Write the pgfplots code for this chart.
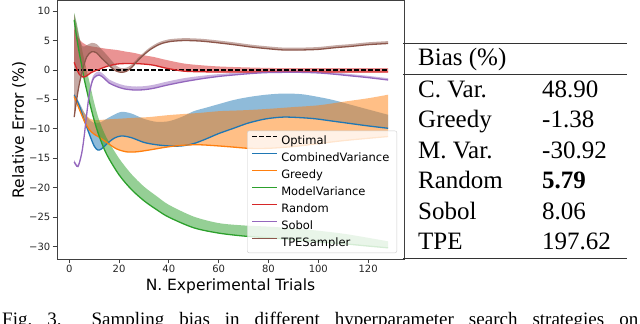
\documentclass[border=0pt]{standalone}
\usepackage{fontspec}
\setmainfont{Liberation Serif}
\newfontfamily\dejavu{DejaVu Sans}
\usepackage{pgfplots}
\usepackage{pgfplotstable}
\pgfplotsset{compat=1.18}
\usepgfplotslibrary{fillbetween}
\definecolor{mplblue}{RGB}{31,119,180}
\definecolor{mplorange}{RGB}{255,127,14}
\definecolor{mplgreen}{RGB}{44,160,44}
\definecolor{mplred}{RGB}{214,39,40}
\definecolor{mplpurple}{RGB}{148,103,189}
\definecolor{mplbrown}{RGB}{140,86,75}

\pgfplotstableread{
x line upper
2 -4.3 -4.0
4 -6.0 -5.5
6 -8.5 -7.2
8 -10.8 -8.4
10 -12.9 -9.0
11.5 -13.6 -9.0
13 -13.4 -8.8
15 -12.6 -8.3
18 -11.6 -7.6
21 -11.2 -7.1
25 -11.5 -7.4
30 -12.3 -8.3
35 -12.7 -8.8
40 -12.9 -8.7
45 -12.9 -8.0
50 -12.5 -7.0
55 -11.7 -6.4
60 -10.8 -5.8
66 -9.9 -5.1
72 -9.0 -4.6
79 -8.3 -4.2
86 -8.0 -4.0
93 -8.1 -4.1
99 -8.3 -4.5
106 -8.7 -5.1
113 -9.1 -5.9
120 -9.5 -6.7
128 -9.9 -7.6
}\cvtab

\pgfplotstableread{
x line upper
2 -4.5 -4.2
4 -6.6 -5.8
6 -8.6 -7.3
8 -10.1 -8.2
10 -10.9 -8.5
12 -11.4 -8.5
15 -12.3 -8.4
19 -13.4 -8.3
23 -13.9 -8.2
27 -13.9 -8.1
32 -13.6 -8.0
39 -13.1 -7.7
45 -12.8 -7.5
52 -12.7 -7.3
60 -12.9 -7.0
66 -13.1 -6.9
72 -13.3 -6.8
80 -13.3 -6.6
90 -13.0 -6.3
100 -12.5 -6.0
110 -12.0 -5.4
120 -11.6 -4.8
128 -11.3 -4.2
}\grtab

\pgfplotstableread{
x line upper
2 8.5 9.7
3 5.5 8.0
4 3.0 5.8
5 0.8 3.8
6 -1.5 1.8
8 -5.2 -1.8
10 -8.5 -5.5
12 -11.2 -8.5
15 -14.3 -11.5
20 -17.8 -15.0
25 -20.3 -17.7
30 -22.2 -19.8
35 -23.7 -21.4
40 -25.0 -22.9
50 -26.8 -24.9
60 -27.7 -26.0
70 -28.2 -26.4
80 -28.5 -26.6
90 -28.8 -26.9
100 -29.2 -27.3
110 -29.5 -27.8
120 -29.9 -28.5
128 -30.2 -29.1
}\mvtab

\pgfplotstableread{
x line upper
2 1.3 7.0
3 0.2 6.0
4 -0.7 5.2
5.5 -1.2 4.6
7 -1.0 4.2
9 -0.4 4.0
12 0.1 3.8
15 0.6 3.6
19 1.0 3.4
23 1.1 3.1
26 1.1 2.9
30 1.0 2.5
34 0.8 2.2
39 0.3 1.7
46 -0.2 1.1
53 -0.3 0.8
60 -0.35 0.6
70 -0.35 0.45
80 -0.35 0.35
90 -0.35 0.3
100 -0.35 0.3
110 -0.35 0.3
120 -0.35 0.3
128 -0.35 0.3
}\rdtab

\pgfplotstableread{
x line upper
2 -15.6 -15.3
3.5 -16.4 -16.1
5 -14.2 -13.9
6 -11.3 -11.0
7 -7.6 -7.3
8 -4.3 -3.8
9 -2.3 -1.7
10 -1.3 -0.7
12 -0.85 -0.25
14 -1.4 -0.8
16 -2.2 -1.6
19 -2.8 -2.2
22 -3.2 -2.6
26 -3.4 -2.8
30 -3.35 -2.75
34 -3.1 -2.5
39 -2.6 -2.0
46 -2.0 -1.4
53 -1.5 -1.0
60 -1.1 -0.7
66 -0.85 -0.5
73 -0.6 -0.3
79 -0.45 -0.15
86 -0.4 -0.1
93 -0.4 -0.1
100 -0.5 -0.2
106 -0.7 -0.4
113 -1.0 -0.7
120 -1.3 -1.0
128 -1.7 -1.4
}\sbtab

\pgfplotstableread{
x line upper
2 -8.0 9.5
3 -5.0 7.5
4 -2.5 5.5
5.4 0.0 4.0
7 2.2 4.2
9 3.1 4.6
11 2.9 4.4
13 2.0 3.5
15 1.2 2.6
17 0.4 1.6
19 -0.2 0.7
21 -0.4 0.3
23 -0.2 0.4
25 0.4 0.9
28 1.8 2.2
32 3.3 3.7
36 4.3 4.7
40 4.8 5.2
46 5.0 5.4
53 4.9 5.3
60 4.6 5.0
66 4.3 4.7
73 3.9 4.3
80 3.6 4.0
86 3.4 3.8
93 3.4 3.8
100 3.5 3.9
107 3.8 4.2
113 4.0 4.4
120 4.3 4.7
128 4.5 4.9
}\tpetab

\newcommand\tabfont{\fontsize{25bp}{30bp}\selectfont}

\begin{document}
\begin{tikzpicture}[x=1bp,y=1bp]
\begin{axis}[
  at={(57bp,65bp)}, anchor=south west,
  scale only axis, width=347bp, height=258.5bp,
  xmin=-4.9, xmax=134.4, ymin=-32.1, ymax=11.8,
  axis line style={black!75, line width=0.9bp},
  tick align=outside, tick pos=left,
  major tick length=4.5bp,
  every tick/.style={black!75, line width=0.9bp},
  xtick={0,20,40,60,80,100,120},
  xticklabels={0,20,40,60,80,100,120},
  ytick={-30,-25,-20,-15,-10,-5,0,5,10},
  yticklabels={−30,−25,−20,−15,−10,−5,0,5,10},
  ticklabel style={font=\dejavu\fontsize{10bp}{12bp}\selectfont, text=black!85},
  xticklabel style={inner sep=0pt, yshift=-1.5bp},
  yticklabel style={inner sep=0pt, xshift=-2bp},
  xlabel={N. Experimental Trials},
  ylabel={Relative Error (\%)},
  x label style={font=\dejavu\fontsize{15.5bp}{18bp}\selectfont, at={(axis description cs:0.5,0)}, anchor=base, yshift=-31bp},
  y label style={font=\dejavu\fontsize{15.5bp}{18bp}\selectfont, at={(axis description cs:-0.1095,0.5)}, anchor=center},
  legend style={
    at={(axis description cs:0.980,0.023)}, anchor=south east,
    font=\dejavu\fontsize{11.5bp}{13bp}\selectfont,
    fill=white, fill opacity=0.8, draw opacity=1, text opacity=1, draw=black!20, rounded corners=2bp,
    inner xsep=4bp, inner ysep=1.5bp, row sep=0bp,
    nodes={inner xsep=3.5bp, inner ysep=0bp, text height=12.6bp, text depth=4.4bp},
  },
  legend cell align=left,
  legend image code/.code={\draw[#1] (0bp,4.5bp) -- (25bp,4.5bp);},
]
\addlegendimage{black, line width=1.5bp, dash pattern=on 4.5bp off 2.5bp}
\addlegendentry{Optimal}
\addlegendimage{draw=mplblue, line width=1.5bp}
\addlegendentry{CombinedVariance}
\addlegendimage{draw=mplorange, line width=1.5bp}
\addlegendentry{Greedy}
\addlegendimage{draw=mplgreen, line width=1.5bp}
\addlegendentry{ModelVariance}
\addlegendimage{draw=mplred, line width=1.5bp}
\addlegendentry{Random}
\addlegendimage{draw=mplpurple, line width=1.5bp}
\addlegendentry{Sobol}
\addlegendimage{draw=mplbrown, line width=1.5bp}
\addlegendentry{TPESampler}
% fills
\addplot[name path=cvl, draw=none, smooth, forget plot] table[x=x,y=line]{\cvtab};
\addplot[name path=cvu, draw=none, smooth, forget plot] table[x=x,y=upper]{\cvtab};
\addplot[mplblue, fill opacity=0.5, draw=none, forget plot] fill between[of=cvu and cvl];
\addplot[name path=grl, draw=none, smooth, forget plot] table[x=x,y=line]{\grtab};
\addplot[name path=gru, draw=none, smooth, forget plot] table[x=x,y=upper]{\grtab};
\addplot[mplorange, fill opacity=0.5, draw=none, forget plot] fill between[of=gru and grl];
\addplot[name path=mvl, draw=none, smooth, forget plot] table[x=x,y=line]{\mvtab};
\addplot[name path=mvu, draw=none, smooth, forget plot] table[x=x,y=upper]{\mvtab};
\addplot[mplgreen, fill opacity=0.5, draw=none, forget plot] fill between[of=mvu and mvl];
\addplot[name path=rdl, draw=none, smooth, forget plot] table[x=x,y=line]{\rdtab};
\addplot[name path=rdu, draw=none, smooth, forget plot] table[x=x,y=upper]{\rdtab};
\addplot[mplred, fill opacity=0.5, draw=none, forget plot] fill between[of=rdu and rdl];
\addplot[name path=sbl, draw=none, smooth, forget plot] table[x=x,y=line]{\sbtab};
\addplot[name path=sbu, draw=none, smooth, forget plot] table[x=x,y=upper]{\sbtab};
\addplot[mplpurple, fill opacity=0.5, draw=none, forget plot] fill between[of=sbu and sbl];
\addplot[name path=tpl, draw=none, smooth, forget plot] table[x=x,y=line]{\tpetab};
\addplot[name path=tpu, draw=none, smooth, forget plot] table[x=x,y=upper]{\tpetab};
\addplot[mplbrown, fill opacity=0.5, draw=none, forget plot] fill between[of=tpu and tpl];
% lines
\addplot[black, line width=1.3bp, dash pattern=on 4.5bp off 2.5bp, forget plot] coordinates {(2,0) (128,0)};
\addplot[mplblue, line width=1.3bp, smooth, forget plot] table[x=x,y=line]{\cvtab};
\addplot[mplorange, line width=1.3bp, smooth, forget plot] table[x=x,y=line]{\grtab};
\addplot[mplgreen, line width=1.3bp, smooth, forget plot] table[x=x,y=line]{\mvtab};
\addplot[mplred, line width=1.3bp, smooth, forget plot] table[x=x,y=line]{\rdtab};
\addplot[mplpurple, line width=1.3bp, smooth, forget plot] table[x=x,y=line]{\sbtab};
\addplot[mplbrown, line width=1.3bp, smooth, forget plot] table[x=x,y=line]{\tpetab};
\end{axis}
% table
\draw[black!80, line width=1bp] (403bp,280.7bp) -- (627bp,280.7bp);
\draw[black!80, line width=1bp] (403bp,249bp) -- (627bp,249bp);
\draw[black!80, line width=1bp] (403bp,65.7bp) -- (627bp,65.7bp);
\node[anchor=base west, inner sep=0pt, font=\tabfont] at (418bp,258.3bp) {Bias (\%)};
\node[anchor=base west, inner sep=0pt, font=\tabfont] at (418bp,226.7bp) {C. Var.};
\node[anchor=base west, inner sep=0pt, font=\tabfont] at (418bp,196.2bp) {Greedy};
\node[anchor=base west, inner sep=0pt, font=\tabfont] at (418bp,165.7bp) {M. Var.};
\node[anchor=base west, inner sep=0pt, font=\tabfont] at (418bp,135.2bp) {Random};
\node[anchor=base west, inner sep=0pt, font=\tabfont] at (418bp,104.7bp) {Sobol};
\node[anchor=base west, inner sep=0pt, font=\tabfont] at (418bp,74.2bp) {TPE};
\node[anchor=base west, inner sep=0pt, font=\tabfont] at (542bp,226.7bp) {48.90};
\node[anchor=base west, inner sep=0pt, font=\tabfont] at (542bp,196.2bp) {-1.38};
\node[anchor=base west, inner sep=0pt, font=\tabfont] at (542bp,165.7bp) {-30.92};
\node[anchor=base west, inner sep=0pt, font=\tabfont] at (542bp,135.2bp) {\textbf{5.79}};
\node[anchor=base west, inner sep=0pt, font=\tabfont] at (542bp,104.7bp) {8.06};
\node[anchor=base west, inner sep=0pt, font=\tabfont] at (542bp,74.2bp) {197.62};
% caption (cut by the page edge)
\node[anchor=base west, inner sep=0pt, font=\fontsize{19bp}{23bp}\selectfont] at (2bp,-1.5bp)
  {\makebox[636bp][s]{Fig.~3.\hspace{30bp}Sampling bias in different hyperparameter search strategies on}};
\pgfresetboundingbox
\useasboundingbox (0,0) rectangle (640bp,324bp);
\end{tikzpicture}
\end{document}
